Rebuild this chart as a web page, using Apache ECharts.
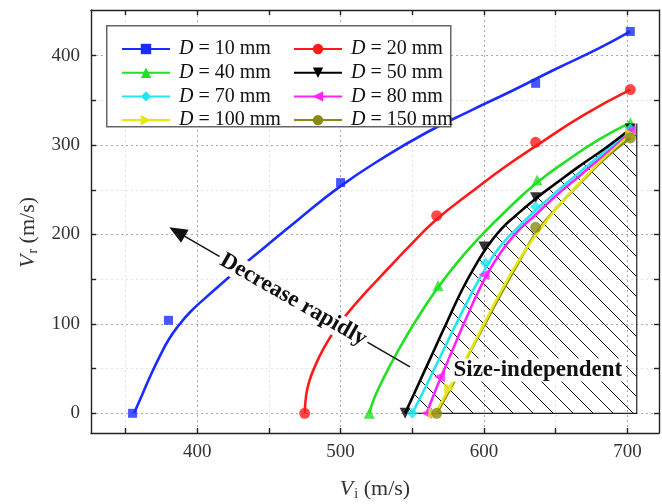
<!DOCTYPE html>
<html>
<head>
<meta charset="utf-8">
<script src="https://cdn.jsdelivr.net/npm/echarts@6/dist/echarts.min.js"></script>
<style>
  html, body { margin: 0; padding: 0; background: #fff; }
  #chart { width: 662px; height: 504px; }
</style>
</head>
<body>
<div id="chart"></div>
<script>
// series labels, colours and marker shapes
const names = ['D = 10 mm', 'D = 20 mm', 'D = 40 mm', 'D = 50 mm', 'D = 70 mm', 'D = 80 mm', 'D = 100 mm', 'D = 150 mm'];
const colors = ['#1a2cff', '#ff1a1a', '#22e022', '#000000', '#22e6f0', '#ff22ff', '#e6e614', '#8a8a10'];
const symbols = ['rect', 'circle', 'triangle', 'triangle', 'diamond', 'triangle', 'triangle', 'circle'];
const rotates = [0, 0, 0, 180, 0, 90, -90, 0];
const lineZ = [3.7, 3.6, 3.5, 3.4, 3.3, 3.2, 3.1, 3.0];

// measured points (Vi, Vr)
const pts10 = [[355, 0], [380, 104], [500, 258], [636, 369], [702, 427]];
const pts20 = [[475, 0], [567, 221], [636, 303], [702, 362]];
const pts40 = [[520, 0], [568, 143], [637, 261], [702, 325]];
const pts50 = [[545, 0], [600, 186], [636, 241], [702, 318]];
const pts70 = [[550, 0], [601, 168], [636, 231], [702, 318]];
const pts80 = [[560, 0], [569, 41], [600, 155], [702, 316]];
const pts100 = [[565, 0], [576, 28], [702, 312]];
const pts150 = [[567, 0], [636, 208], [702, 308]];

// fitted curves
const fit10 = [[356, 0], [362, 22], [368, 44], [374, 64], [380, 82], [387, 98], [395, 113], [405, 128], [417, 145], [430, 163], [445, 183], [470, 216], [500, 254], [530, 286], [560, 314], [590, 338], [620, 361], [650, 385], [680, 408], [702, 427]];
const fit20 = [[475, 0], [476, 20], [478, 35], [482, 52], [488, 72], [496, 93], [506, 114], [518, 136], [532, 160], [548, 187], [567, 217], [590, 246], [615, 276], [640, 303], [670, 334], [702, 362]];
const fit40 = [[520, 0], [523, 15], [528, 33], [535, 55], [544, 81], [555, 110], [568, 141], [582, 170], [597, 197], [615, 226], [637, 258], [660, 285], [680, 306], [702, 325]];
const fit50 = [[545, 0], [555, 35], [565, 70], [575, 105], [585, 139], [595, 168], [603, 188], [612, 206], [622, 221], [636, 240], [650, 257], [667, 277], [685, 297], [702, 318]];
const fit70 = [[550, 0], [560, 32], [570, 65], [580, 98], [590, 130], [601, 162], [610, 184], [620, 202], [636, 227], [650, 247], [667, 270], [685, 294], [702, 318]];
const fit80 = [[560, 0], [566, 25], [572, 48], [580, 78], [590, 115], [600, 149], [610, 176], [622, 201], [636, 222], [650, 243], [667, 266], [685, 291], [702, 316]];
const fit100 = [[566, 0], [572, 17], [580, 40], [590, 69], [600, 100], [612, 137], [625, 173], [636, 199], [652, 232], [668, 260], [685, 288], [702, 312]];
const fit150 = [[567, 0], [574, 20], [582, 44], [592, 74], [602, 104], [614, 140], [626, 174], [636, 201], [652, 232], [668, 259], [685, 286], [702, 308]];

const fits = [fit10, fit20, fit40, fit50, fit70, fit80, fit100, fit150];
const pts = [pts10, pts20, pts40, pts50, pts70, pts80, pts100, pts150];

// hatched "size-independent" zone: right edge and base of the box
const hatchEdge = [[545, 0], [706.5, 0], [706.5, 324]];
const hatchTop = [706.5, 322];

// axis ticks
const xMajor = [400, 500, 600, 700];
const xTicks = [350, 400, 450, 500, 550, 600, 650, 700];
const yMajor = [0, 100, 200, 300, 400];
const yTicks = [0, 50, 100, 150, 200, 250, 300, 350, 400];

// annotations (data coordinates)
const arrowFrom = [548.4, 52];
const arrowTo = [386, 203];
const noteDecrease = [467, 127];
const noteSize = [637.5, 48.5];

const chart = echarts.init(document.getElementById('chart'));
const serif = '"Liberation Serif", "DejaVu Serif", serif';

// hatch pattern tile
const tile = document.createElement('canvas');
tile.width = 20; tile.height = 20;
const tctx = tile.getContext('2d');
tctx.strokeStyle = '#111';
tctx.lineWidth = 1;
tctx.beginPath();
tctx.moveTo(-2, -2); tctx.lineTo(22, 22);
tctx.moveTo(-2, 18); tctx.lineTo(2, 22);
tctx.moveTo(18, -2); tctx.lineTo(22, 2);
tctx.stroke();

const frameLine = { show: true, onZero: false, lineStyle: { color: '#222', width: 1.4 } };
const titleStyle = {
  fontFamily: serif, fontSize: 22, color: '#333',
  rich: { i: { fontStyle: 'italic', fontFamily: serif, fontSize: 22, color: '#333' },
          s: { fontFamily: serif, fontSize: 14, color: '#333', padding: [10, 0, 0, 1] } }
};

function axisX(pos, labels) {
  return {
    type: 'value', position: pos, min: 326, max: 722,
    axisLine: frameLine,
    axisTick: { show: true, inside: true, length: 5, customValues: xTicks, lineStyle: { color: '#222', width: 1.4 } },
    axisLabel: labels ? { customValues: xMajor, fontFamily: serif, fontSize: 19, color: '#333', margin: 10 } : { show: false },
    splitLine: labels ? { show: true, lineStyle: { type: [2, 3], color: ['#e2e2e2', '#a8a8a8'], width: 1 } } : { show: false },
    name: labels ? '{i|V}{s|i} (m/s)' : '',
    nameLocation: 'middle', nameGap: 44,
    nameTextStyle: titleStyle
  };
}
function axisY(pos, labels) {
  return {
    type: 'value', position: pos, min: -22, max: 451,
    axisLine: frameLine,
    axisTick: { show: true, inside: true, length: 5, customValues: yTicks, lineStyle: { color: '#222', width: 1.4 } },
    axisLabel: labels ? { customValues: yMajor, fontFamily: serif, fontSize: 19, color: '#333', margin: 11 } : { show: false },
    splitLine: labels ? { show: true, lineStyle: { type: [2, 3], color: ['#a8a8a8', '#e2e2e2'], width: 1 } } : { show: false },
    name: labels ? '{i|V}{s|r} (m/s)' : '',
    nameLocation: 'middle', nameGap: 50, nameRotate: 90,
    nameTextStyle: Object.assign({}, titleStyle, { padding: [0, 22, 0, 0] })
  };
}

const series = [];
// hatched area under the D = 50 mm curve
series.push({
  type: 'line', data: fit50.concat([hatchTop]), smooth: 0.5,
  symbol: 'none', lineStyle: { width: 0 }, silent: true, z: 1,
  areaStyle: { color: { image: tile, repeat: 'repeat' }, opacity: 1, origin: 0 }
});
series.push({
  type: 'line', data: hatchEdge, symbol: 'none', silent: true, z: 1,
  lineStyle: { color: '#222', width: 1.2 }
});
names.forEach((n, k) => {
  series.push({
    name: n, type: 'line', data: fits[k], smooth: 0.5,
    symbol: symbols[k], symbolRotate: rotates[k], showSymbol: false, symbolSize: 10,
    lineStyle: { color: colors[k], width: 2.6 }, itemStyle: { color: colors[k] }, z: lineZ[k]
  });
  series.push({
    name: n, type: 'scatter', data: pts[k], symbol: symbols[k], symbolRotate: rotates[k],
    symbolSize: k === 0 ? 9 : 11, itemStyle: { color: colors[k] }, z: 4
  });
});
// annotations
series.push({
  type: 'line', data: [], silent: true, z: 6,
  markLine: {
    silent: true, animation: false, symbol: ['none', 'triangle'], symbolSize: [15, 18],
    lineStyle: { color: '#111', width: 1.5, type: 'solid' }, label: { show: false },
    data: [[{ coord: arrowFrom }, { coord: arrowTo }]]
  },
  markPoint: {
    silent: true, animation: false, symbol: 'circle', symbolSize: 0,
    label: {
      show: true, position: 'inside', fontFamily: serif, fontWeight: 'bold', fontSize: 23,
      color: '#111', backgroundColor: '#fff', padding: [0, 3]
    },
    data: [
      { coord: noteDecrease, value: 'Decrease rapidly', label: { rotate: -29.7, formatter: 'Decrease rapidly' } },
      { coord: noteSize, value: 'Size-independent', label: { formatter: 'Size-independent', padding: [0, 4] } }
    ]
  }
});

const legendText = {
  fontFamily: serif, fontSize: 20, color: '#111', lineHeight: 20, padding: [0, 0, 0, 4],
  rich: { i: { fontStyle: 'italic', fontFamily: serif, fontSize: 20, color: '#111' } }
};
const fmt = n => '{i|D}' + n.slice(1);

chart.setOption({
  animation: false,
  backgroundColor: '#fff',
  grid: { left: 91, right: 3, top: 10, bottom: 71, outerBoundsMode: 'none', containLabel: false },
  xAxis: [axisX('bottom', true), axisX('top', false)],
  yAxis: [axisY('left', true), axisY('right', false)],
  legend: [
    { data: [names[0], names[2], names[4], names[6]], orient: 'vertical', left: 116, top: 34,
      itemWidth: 48, itemHeight: 13, itemGap: 3.7, formatter: fmt, textStyle: legendText, z: 20, symbolRotate: 'inherit' },
    { data: [names[1], names[3], names[5], names[7]], orient: 'vertical', left: 288, top: 34,
      itemWidth: 48, itemHeight: 13, itemGap: 3.7, formatter: fmt, textStyle: legendText, z: 20, symbolRotate: 'inherit' }
  ],
  graphic: [{
    type: 'rect', z: 15, left: 106, top: 25,
    shape: { width: 344, height: 101 },
    style: { fill: '#fff', stroke: '#666', lineWidth: 1.5 }
  }],
  series: series
});
</script>
</body>
</html>
